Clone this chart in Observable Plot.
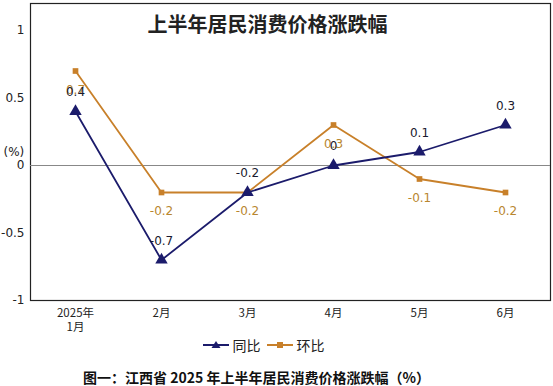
<!DOCTYPE html>
<html>
<head>
<meta charset="utf-8">
<script src="https://cdn.jsdelivr.net/npm/d3@7"></script>
<script src="https://cdn.jsdelivr.net/npm/@observablehq/plot@0.6"></script>
<style>
  body { margin: 0; background: #fff; font-family: "Noto Sans CJK SC", "DejaVu Sans", sans-serif; }
  #wrap { width: 553px; position: relative; }
  #legend { height: 20px; display: flex; justify-content: center; align-items: center; gap: 6px; font-size: 14px; color: #222; margin-left: -26px; margin-top: -1px; }
  #legend .item { display: flex; align-items: center; gap: 4px; }
  #caption { text-align: center; font-weight: bold; font-size: 14px; color: #111; margin-top: 14px; line-height: 16px; margin-left: -40px; }
</style>
</head>
<body>
<div id="wrap">
  <div id="chart"></div>
  <div id="legend"></div>
  <div id="caption">图一：江西省 2025 年上半年居民消费价格涨跌幅（%）</div>
</div>
<script>
const months = ["2025年\n1月", "2月", "3月", "4月", "5月", "6月"];
const yoy = [0.4, -0.7, -0.2, 0, 0.1, 0.3];     // 同比
const mom = [0.7, -0.2, -0.2, 0.3, -0.1, -0.2];  // 环比
const yTicks = [-1, -0.5, 0, 0.5, 1];
const seriesNames = ["同比", "环比"];
const title = "上半年居民消费价格涨跌幅";

const navy = "#1b1b6b";
const orange = "#c8802a";
const orangeText = "#b8862f";

const yoyData = months.map((m, i) => ({month: m, value: yoy[i]}));
const momData = months.map((m, i) => ({month: m, value: mom[i]}));

const chart = Plot.plot({
  width: 553,
  height: 336,
  marginTop: 3,
  marginBottom: 36,
  marginLeft: 30,
  marginRight: 3,
  style: { fontFamily: "DejaVu Sans, sans-serif", fontSize: "12px", color: "#222", background: "#fff" },
  x: { type: "point", domain: months, padding: 0.5, label: null },
  y: { domain: [-1, 1.2], label: null },
  marks: [
    Plot.frame({ stroke: "#222", strokeWidth: 1.2 }),
    Plot.ruleY([0], { stroke: "#888", strokeWidth: 1 }),
    Plot.axisY({ ticks: yTicks, tickSize: 0, tickPadding: 6, tickFormat: d => String(d), fontSize: 12, label: null }),
    Plot.axisX({ tickSize: 0, tickPadding: 6, fontSize: 11.5, fontFamily: "Noto Sans CJK SC", label: null, lineHeight: 1.25 }),
    Plot.text(["(%)"], { frameAnchor: "left", dx: -27, textAnchor: "start", fontSize: 12, fill: "#222" }),
    Plot.text([title], { frameAnchor: "top", dy: 14, dx: -23, fontSize: 20, fontWeight: "bold", fontFamily: "Noto Sans CJK SC", fill: "#222" }),
    Plot.line(momData, { x: "month", y: "value", stroke: orange, strokeWidth: 1.8 }),
    Plot.line(yoyData, { x: "month", y: "value", stroke: navy, strokeWidth: 1.8 }),
    Plot.dot(momData, { x: "month", y: "value", symbol: "square", r: 3.2, fill: orange, stroke: "none" }),
    Plot.dot(yoyData, { x: "month", y: "value", symbol: "triangle", r: 4.6, fill: navy, stroke: "none" }),
    Plot.text(momData, { x: "month", y: "value", text: d => String(d.value), dy: 19, fill: orangeText, fontSize: 12 }),
    Plot.text(yoyData, { x: "month", y: "value", text: d => String(d.value), dy: -19, fill: "#1a1a2e", fontSize: 12 })
  ]
});
document.getElementById("chart").appendChild(chart);

// legend
const legend = document.getElementById("legend");
const styles = [
  { color: navy, shape: "triangle" },
  { color: orange, shape: "square" }
];
seriesNames.forEach((name, i) => {
  const item = document.createElement("div");
  item.className = "item";
  const s = styles[i];
  const marker = s.shape === "triangle"
    ? `<path d="M13,4 L17.5,11 L8.5,11 Z" fill="${s.color}"/>`
    : `<rect x="10" y="5" width="6" height="6" fill="${s.color}"/>`;
  item.innerHTML = `<svg width="26" height="16"><line x1="0" y1="8" x2="26" y2="8" stroke="${s.color}" stroke-width="2"/>${marker}</svg><span>${name}</span>`;
  legend.appendChild(item);
});
</script>
</body>
</html>
